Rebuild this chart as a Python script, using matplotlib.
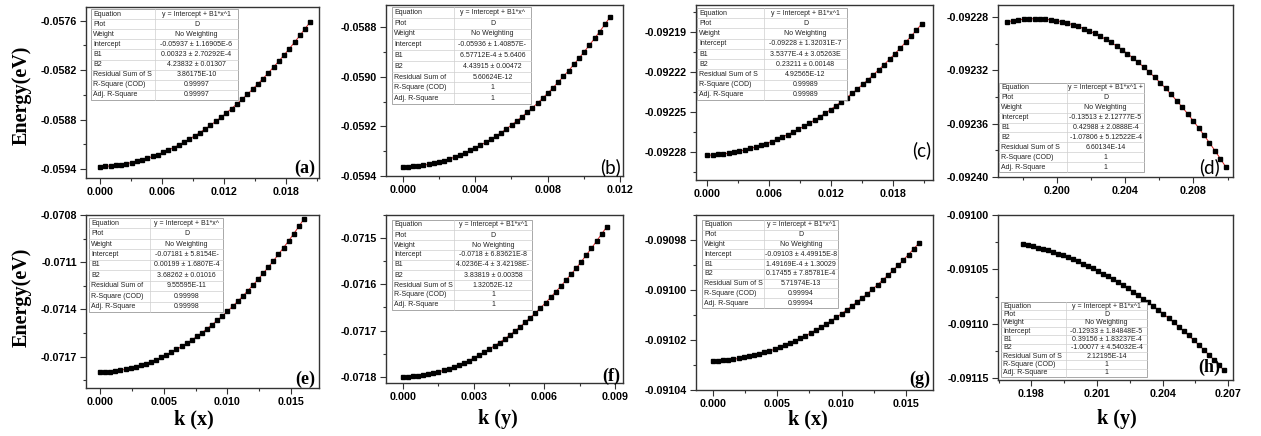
import matplotlib
matplotlib.use("Agg")
import matplotlib.pyplot as plt
from matplotlib.patches import Rectangle
from matplotlib.lines import Line2D
from matplotlib.ticker import AutoMinorLocator

# ── Data ─────────────────────────────────────────────────────────────
k_a = [0, 0.00051, 0.00102, 0.00153, 0.00204, 0.00255, 0.00306, 0.00357, 0.00408, 0.00459,
       0.0051, 0.00561, 0.00612, 0.00663, 0.00714, 0.00765, 0.00816, 0.00867, 0.00918, 0.00969,
       0.0102, 0.01071, 0.01122, 0.01173, 0.01224, 0.01275, 0.01326, 0.01377, 0.01428, 0.01479,
       0.0153, 0.01581, 0.01632, 0.01683, 0.01734, 0.01785, 0.01836, 0.01887, 0.01938, 0.01989, 0.0204]
E_a = [-0.059370, -0.059367, -0.059363, -0.059356, -0.059347, -0.059335, -0.059322, -0.059307,
       -0.059289, -0.059270, -0.059248, -0.059224, -0.059198, -0.059170, -0.059140, -0.059107,
       -0.059073, -0.059036, -0.058998, -0.058957, -0.058914, -0.058869, -0.058822, -0.058772,
       -0.058721, -0.058667, -0.058612, -0.058554, -0.058494, -0.058432, -0.058368, -0.058302,
       -0.058233, -0.058163, -0.058090, -0.058016, -0.057939, -0.057860, -0.057779, -0.057696, -0.057610]

k_b = [0, 0.000286, 0.000572, 0.000858, 0.001144, 0.00143, 0.001716, 0.002002, 0.002288, 0.002574,
       0.00286, 0.003146, 0.003432, 0.003718, 0.004004, 0.00429, 0.004576, 0.004862, 0.005148, 0.005434,
       0.00572, 0.006006, 0.006292, 0.006578, 0.006864, 0.00715, 0.007436, 0.007722, 0.008008, 0.008294,
       0.00858, 0.008866, 0.009152, 0.009438, 0.009724, 0.01001, 0.010296, 0.010582, 0.010868, 0.011154, 0.01144]
E_b = [-0.059363, -0.059362, -0.059361, -0.059359, -0.059356, -0.059353, -0.059348, -0.059343,
       -0.059338, -0.059331, -0.059324, -0.059316, -0.059307, -0.059297, -0.059287, -0.059276,
       -0.059264, -0.059252, -0.059239, -0.059225, -0.059210, -0.059194, -0.059178, -0.059161,
       -0.059143, -0.059125, -0.059106, -0.059086, -0.059065, -0.059044, -0.059021, -0.058998,
       -0.058975, -0.058950, -0.058925, -0.058899, -0.058872, -0.058845, -0.058817, -0.058788, -0.058758]

k_c = [0, 0.00052, 0.00104, 0.00156, 0.00208, 0.0026, 0.00312, 0.00364, 0.00416, 0.00468,
       0.0052, 0.00572, 0.00624, 0.00676, 0.00728, 0.0078, 0.00832, 0.00884, 0.00936, 0.00988,
       0.0104, 0.01092, 0.01144, 0.01196, 0.01248, 0.013, 0.01352, 0.01404, 0.01456, 0.01508,
       0.0156, 0.01612, 0.01664, 0.01716, 0.01768, 0.0182, 0.01872, 0.01924, 0.01976, 0.02028, 0.0208]
E_c = [-0.0922825, -0.0922823, -0.0922819, -0.0922815, -0.0922809, -0.0922802, -0.0922794,
       -0.0922785, -0.0922774, -0.0922763, -0.0922750, -0.0922737, -0.0922722, -0.0922706,
       -0.0922688, -0.0922670, -0.0922651, -0.0922630, -0.0922608, -0.0922586, -0.0922562,
       -0.0922536, -0.0922510, -0.0922483, -0.0922454, -0.0922424, -0.0922394, -0.0922362,
       -0.0922329, -0.0922294, -0.0922259, -0.0922222, -0.0922185, -0.0922146, -0.0922106,
       -0.0922065, -0.0922023, -0.0921979, -0.0921935, -0.0921889, -0.0921842]

k_d = [0.1971, 0.19742, 0.19774, 0.19806, 0.19838, 0.1987, 0.19902, 0.19934, 0.19966, 0.19998,
       0.2003, 0.20062, 0.20094, 0.20126, 0.20158, 0.2019, 0.20222, 0.20254, 0.20286, 0.20318,
       0.2035, 0.20382, 0.20414, 0.20446, 0.20478, 0.2051, 0.20542, 0.20574, 0.20606, 0.20638,
       0.2067, 0.20702, 0.20734, 0.20766, 0.20798, 0.2083, 0.20862, 0.20894, 0.20926, 0.20958, 0.2099]
E_d = [-0.0922836, -0.0922828, -0.0922821, -0.0922817, -0.0922814, -0.0922813, -0.0922814,
       -0.0922817, -0.0922821, -0.0922828, -0.0922836, -0.0922846, -0.0922858, -0.0922871,
       -0.0922887, -0.0922904, -0.0922923, -0.0922944, -0.0922967, -0.0922991, -0.0923017,
       -0.0923045, -0.0923075, -0.0923107, -0.0923141, -0.0923176, -0.0923213, -0.0923253,
       -0.0923293, -0.0923336, -0.0923381, -0.0923427, -0.0923475, -0.0923525, -0.0923577,
       -0.0923630, -0.0923686, -0.0923743, -0.0923802, -0.0923863, -0.0923925]

k_e = [0, 0.0004, 0.0008, 0.0012, 0.0016, 0.002, 0.0024, 0.0028, 0.0032, 0.0036,
       0.004, 0.0044, 0.0048, 0.0052, 0.0056, 0.006, 0.0064, 0.0068, 0.0072, 0.0076,
       0.008, 0.0084, 0.0088, 0.0092, 0.0096, 0.01, 0.0104, 0.0108, 0.0112, 0.0116,
       0.012, 0.0124, 0.0128, 0.0132, 0.0136, 0.014, 0.0144, 0.0148, 0.0152, 0.0156, 0.016]
E_e = [-0.071800, -0.071799, -0.071796, -0.071792, -0.071787, -0.071781, -0.071774, -0.071766,
       -0.071756, -0.071745, -0.071733, -0.071720, -0.071706, -0.071690, -0.071673, -0.071655,
       -0.071636, -0.071616, -0.071595, -0.071572, -0.071548, -0.071523, -0.071497, -0.071470,
       -0.071442, -0.071412, -0.071381, -0.071349, -0.071316, -0.071281, -0.071246, -0.071209,
       -0.071171, -0.071132, -0.071092, -0.071050, -0.071008, -0.070964, -0.070919, -0.070873, -0.070825]

k_f = [0, 0.000216, 0.000432, 0.000648, 0.000864, 0.00108, 0.001296, 0.001512, 0.001728, 0.001944,
       0.00216, 0.002376, 0.002592, 0.002808, 0.003024, 0.00324, 0.003456, 0.003672, 0.003888, 0.004104,
       0.00432, 0.004536, 0.004752, 0.004968, 0.005184, 0.0054, 0.005616, 0.005832, 0.006048, 0.006264,
       0.00648, 0.006696, 0.006912, 0.007128, 0.007344, 0.00756, 0.007776, 0.007992, 0.008208, 0.008424, 0.00864]
E_f = [-0.071800, -0.071800, -0.071799, -0.071798, -0.071796, -0.071795, -0.071792, -0.071790,
       -0.071786, -0.071783, -0.071779, -0.071775, -0.071770, -0.071765, -0.071759, -0.071753,
       -0.071747, -0.071740, -0.071733, -0.071726, -0.071718, -0.071710, -0.071701, -0.071692,
       -0.071682, -0.071672, -0.071662, -0.071651, -0.071640, -0.071628, -0.071616, -0.071604,
       -0.071591, -0.071578, -0.071565, -0.071551, -0.071536, -0.071522, -0.071506, -0.071491, -0.071475]

k_g = [0, 0.0004, 0.0008, 0.0012, 0.0016, 0.002, 0.0024, 0.0028, 0.0032, 0.0036,
       0.004, 0.0044, 0.0048, 0.0052, 0.0056, 0.006, 0.0064, 0.0068, 0.0072, 0.0076,
       0.008, 0.0084, 0.0088, 0.0092, 0.0096, 0.01, 0.0104, 0.0108, 0.0112, 0.0116,
       0.012, 0.0124, 0.0128, 0.0132, 0.0136, 0.014, 0.0144, 0.0148, 0.0152, 0.0156, 0.016]
E_g = [-0.0910284, -0.0910283, -0.0910282, -0.0910280, -0.0910277, -0.0910274, -0.0910270,
       -0.0910266, -0.0910261, -0.0910256, -0.0910250, -0.0910244, -0.0910237, -0.0910229,
       -0.0910221, -0.0910212, -0.0910203, -0.0910193, -0.0910183, -0.0910172, -0.0910160,
       -0.0910148, -0.0910136, -0.0910123, -0.0910109, -0.0910095, -0.0910080, -0.0910064,
       -0.0910048, -0.0910032, -0.0910015, -0.0909997, -0.0909979, -0.0909960, -0.0909941,
       -0.0909921, -0.0909901, -0.0909880, -0.0909858, -0.0909836, -0.0909813]

k_h = [0.1976, 0.19783, 0.19806, 0.19829, 0.19852, 0.19875, 0.19898, 0.19921, 0.19944, 0.19967,
       0.1999, 0.20013, 0.20036, 0.20059, 0.20082, 0.20105, 0.20128, 0.20151, 0.20174, 0.20197,
       0.2022, 0.20243, 0.20266, 0.20289, 0.20312, 0.20335, 0.20358, 0.20381, 0.20404, 0.20427,
       0.2045, 0.20473, 0.20496, 0.20519, 0.20542, 0.20565, 0.20588, 0.20611, 0.20634, 0.20657, 0.2068]
E_h = [-0.0910269, -0.0910278, -0.0910289, -0.0910300, -0.0910312, -0.0910325, -0.0910340,
       -0.0910355, -0.0910371, -0.0910389, -0.0910407, -0.0910426, -0.0910447, -0.0910468,
       -0.0910490, -0.0910514, -0.0910538, -0.0910564, -0.0910590, -0.0910617, -0.0910646,
       -0.0910675, -0.0910706, -0.0910737, -0.0910769, -0.0910803, -0.0910837, -0.0910873,
       -0.0910909, -0.0910947, -0.0910985, -0.0911025, -0.0911065, -0.0911107, -0.0911149,
       -0.0911193, -0.0911237, -0.0911283, -0.0911329, -0.0911377, -0.0911426]

# Axis ticks
xt_a = [0.000, 0.006, 0.012, 0.018]
xt_b = [0.000, 0.004, 0.008, 0.012]
xt_c = [0.000, 0.006, 0.012, 0.018]
xt_d = [0.200, 0.204, 0.208]
xt_e = [0.000, 0.005, 0.010, 0.015]
xt_f = [0.000, 0.003, 0.006, 0.009]
xt_g = [0.000, 0.005, 0.010, 0.015]
xt_h = [0.198, 0.201, 0.204, 0.207]

yt_a = [-0.0594, -0.0588, -0.0582, -0.0576]
yt_b = [-0.0594, -0.0592, -0.0590, -0.0588]
yt_c = [-0.09228, -0.09225, -0.09222, -0.09219]
yt_d = [-0.09240, -0.09236, -0.09232, -0.09228]
yt_e = [-0.0717, -0.0714, -0.0711, -0.0708]
yt_f = [-0.0718, -0.0717, -0.0716, -0.0715]
yt_g = [-0.09104, -0.09102, -0.09100, -0.09098]
yt_h = [-0.09115, -0.09110, -0.09105, -0.09100]

# Fit-result tables (Origin style)
ROW_NAMES = ["Equation", "Plot", "Weight", "Intercept", "B1", "B2",
             "Residual Sum of S", "R-Square (COD)", "Adj. R-Square"]
fit_a = ["y = Intercept + B1*x^1", "D", "No Weighting", "-0.05937 \u00b1 1.16905E-6",
         "0.00323 \u00b1 2.70292E-4", "4.23832 \u00b1 0.01307", "3.86175E-10", "0.99997", "0.99997"]
fit_b = ["y = Intercept + B1*x^", "D", "No Weighting", "-0.05936 \u00b1 1.40857E-",
         "6.57712E-4 \u00b1 5.6406", "4.43915 \u00b1 0.00472", "5.60624E-12", "1", "1"]
fit_c = ["y = Intercept + B1*x^1", "D", "No Weighting", "-0.09228 \u00b1 1.32031E-7",
         "3.5377E-4 \u00b1 3.05263E", "0.23211 \u00b1 0.00148", "4.92565E-12", "0.99989", "0.99989"]
fit_d = ["y = Intercept + B1*x^1 +", "D", "No Weighting", "-0.13513 \u00b1 2.12777E-5",
         "0.42988 \u00b1 2.0888E-4", "-1.07806 \u00b1 5.12522E-4", "6.60134E-14", "1", "1"]
fit_e = ["y = Intercept + B1*x^", "D", "No Weighting", "-0.07181 \u00b1 5.8154E-",
         "0.00199 \u00b1 1.6807E-4", "3.68262 \u00b1 0.01016", "9.55595E-11", "0.99998", "0.99998"]
fit_f = ["y = Intercept + B1*x^1", "D", "No Weighting", "-0.0718 \u00b1 6.83621E-8",
         "4.0236E-4 \u00b1 3.42198E-", "3.83819 \u00b1 0.00358", "1.32052E-12", "1", "1"]
fit_g = ["y = Intercept + B1*x^1", "D", "No Weighting", "-0.09103 \u00b1 4.49915E-8",
         "1.49169E-4 \u00b1 1.30029", "0.17455 \u00b1 7.85781E-4", "5.71974E-13", "0.99994", "0.99994"]
fit_h = ["y = Intercept + B1*x^1", "D", "No Weighting", "-0.12933 \u00b1 1.84848E-5",
         "0.39156 \u00b1 1.83237E-4", "-1.00077 \u00b1 4.54032E-4", "2.12195E-14", "1", "1"]

# ── Layout (pixels of the 1261x436 canvas) ───────────────────────────
W, H = 1261, 436

PANELS = [
    # letter, k, E, xticks, yticks, ydec, xlim, ylim, axes (l,t,r,b), table (l,t,r,b,split), fit, resid label, letter (x,y), serif
    ("(a)", k_a, E_a, xt_a, yt_a, 4, (-0.00136, 0.02123), (-0.059509, -0.057434),
     (86, 7, 319, 178), (91, 9, 238, 100, 155), fit_a, "Residual Sum of S", (315, 168), True),
    ("(b)", k_b, E_b, xt_b, yt_b, 4, (-0.00092, 0.01215), (-0.05940, -0.05871),
     (386, 5, 623, 176), (392, 7, 531, 104, 454), fit_b, "Residual Sum of", (621, 167), False),
    ("(c)", k_c, E_c, xt_c, yt_c, 5, (-0.0011, 0.0219), (-0.092301, -0.09217),
     (696, 5, 933, 180), (697, 8, 847, 100, 764), fit_c, "Residual Sum of S", (931, 150), False),
    ("(d)", k_d, E_d, xt_d, yt_d, 5, (0.19656, 0.21032), (-0.0924, -0.092271),
     (998, 5, 1233, 177), (999, 83, 1144, 172, 1067), fit_d, "Residual Sum of S", (1220, 167), False),
    ("(e)", k_e, E_e, xt_e, yt_e, 4, (-0.0011, 0.01718), (-0.07190, -0.0708),
     (86, 215, 319, 388), (89, 218, 223, 312, 150), fit_e, "Residual Sum of", (315, 379), True),
    ("(f)", k_f, E_f, xt_f, yt_f, 4, (-0.00071, 0.00933), (-0.0718137, -0.0714495),
     (386, 215, 623, 383), (392, 220, 532, 310, 454), fit_f, "Residual Sum of S", (620, 376), True),
    ("(g)", k_g, E_g, xt_g, yt_g, 5, (-0.0013, 0.0171), (-0.09104, -0.09097),
     (696, 215, 933, 390), (702, 220, 838, 308, 764), fit_g, "Residual Sum of S", (930, 379), True),
    ("(h)", k_h, E_h, xt_h, yt_h, 5, (0.19647, 0.20722), (-0.0911516, -0.09100),
     (998, 215, 1233, 380), (1001, 302, 1147, 377, 1066), fit_h, "Residual Sum of S", (1220, 367), True),
]

XLABELS = [("k (x)", 194), ("k (y)", 498), ("k (x)", 808), ("k (y)", 1117)]

SPINE = "#333333"
TICK_FONT = "Liberation Sans"
SERIF = "Liberation Serif"

fig = plt.figure(figsize=(W / 100, H / 100), dpi=100)


def fig_box(l, t, r, b):
    return [l / W, 1 - b / H, (r - l) / W, (b - t) / H]


def draw_table(box, values, resid_label):
    l, t, r, b, split = box
    names = list(ROW_NAMES)
    names[6] = resid_label
    n = len(names)
    rh = (b - t) / n
    fig.add_artist(Rectangle((l / W, 1 - b / H), (r - l) / W, (b - t) / H,
                             transform=fig.transFigure, facecolor="white",
                             edgecolor="#9a9a9a", lw=0.6, zorder=5))
    for i in range(1, n):
        y = 1 - (t + i * rh) / H
        fig.add_artist(Line2D([l / W, r / W], [y, y], transform=fig.transFigure,
                              color="#cfcfcf", lw=0.5, zorder=6))
    fig.add_artist(Line2D([split / W, split / W], [1 - t / H, 1 - b / H],
                          transform=fig.transFigure, color="#cfcfcf", lw=0.5, zorder=6))
    for i, (name, val) in enumerate(zip(names, values)):
        yc = 1 - (t + (i + 0.5) * rh) / H
        fig.text((l + 2) / W, yc, name, ha="left", va="center", fontsize=5,
                 family=TICK_FONT, color="#222222", zorder=7)
        fig.text((split + r) / 2 / W, yc, val, ha="center", va="center", fontsize=5,
                 family=TICK_FONT, color="#222222", zorder=7)


for (letter, k, E, xt, yt, ydec, xlim, ylim, abox, tbox, fit, resid,
     lpos, serif) in PANELS:
    ax = fig.add_axes(fig_box(*abox))
    ax.plot(k, E, color="#d42020", lw=0.7, zorder=2)
    ax.plot(k, E, ls="none", marker="s", ms=2.7, color="black", zorder=3)

    ax.set_xlim(*xlim)
    ax.set_ylim(*ylim)
    ax.set_xticks(xt, labels=[f"{v:.3f}" for v in xt],
                  fontsize=7.7, fontweight="bold", family=TICK_FONT)
    ax.set_yticks(yt, labels=[f"{v:.{ydec}f}" for v in yt],
                  fontsize=7.7, fontweight="bold", family=TICK_FONT)
    ax.xaxis.set_minor_locator(AutoMinorLocator(2))
    ax.yaxis.set_minor_locator(AutoMinorLocator(2))
    ax.tick_params(which="both", direction="out", top=False, right=False,
                   color=SPINE, width=0.8, pad=2.5)
    ax.tick_params(which="major", length=4)
    ax.tick_params(which="minor", length=2.5)
    for sp in ax.spines.values():
        sp.set_color(SPINE)
        sp.set_linewidth(1.0)

    draw_table(tbox, fit, resid)

    if serif:
        fig.text(lpos[0] / W, 1 - lpos[1] / H, letter, ha="right", va="center",
                 fontsize=13, fontweight="bold", family=SERIF, zorder=8)
    else:
        fig.text(lpos[0] / W, 1 - lpos[1] / H, letter, ha="right", va="center",
                 fontsize=13.5, family="Lato", zorder=8)

# Shared axis titles
for yc in (95, 297):
    fig.text(22 / W, 1 - yc / H, "Energy(eV)", rotation=90, ha="center", va="center",
             fontsize=14.5, fontweight="bold", family=SERIF)
for label, xc in XLABELS:
    fig.text(xc / W, 1 - 419 / H, label, ha="center", va="center",
             fontsize=14.5, fontweight="bold", family=SERIF)

fig.savefig("out.png", dpi=100)
